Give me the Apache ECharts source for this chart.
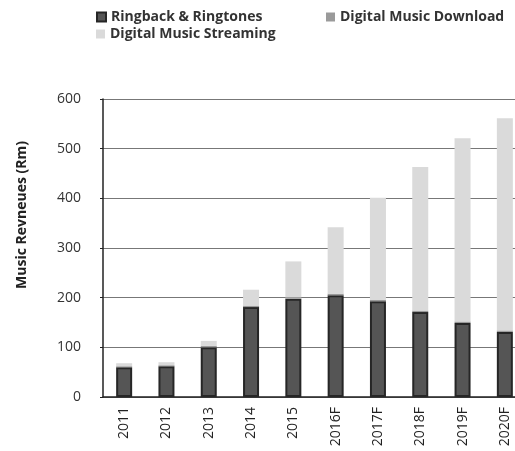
<!DOCTYPE html>
<html>
<head>
<meta charset="utf-8">
<script src="https://cdn.jsdelivr.net/npm/echarts@6/dist/echarts.min.js"></script>
<style>
  html, body { margin: 0; padding: 0; background: #ffffff; overflow: hidden; }
  /* the original is cropped on the right, so the chart is a bit wider than the window */
  #chart { width: 526px; height: 451px; }
</style>
</head>
<body>
<div id="chart"></div>
<script>
  // values (Rm)
  var years = ['2011', '2012', '2013', '2014', '2015', '2016F', '2017F', '2018F', '2019F', '2020F'];
  var ringback = [60, 62, 100, 181, 198, 205, 193, 171, 149, 131];
  var download = [2, 2, 3, 3, 3, 3, 3, 3, 3, 3];
  var streaming = [6, 6, 10, 32, 72, 134, 205, 289, 369, 427];
  var yTicks = [0, 100, 200, 300, 400, 500, 600];

  var font = '"Open Sans", "Liberation Sans", sans-serif';
  var myChart = echarts.init(document.getElementById('chart'));

  var legendText = {fontFamily: font, fontSize: 14, fontWeight: 'bold', color: '#333'};
  var legendBase = {icon: 'rect', itemWidth: 9, itemHeight: 9, itemGap: 2, textStyle: legendText};

  myChart.setOption({
    backgroundColor: '#ffffff',
    animation: false,
    legend: [
      Object.assign({data: ['Ringback & Ringtones'], left: 91, top: 5}, legendBase),
      Object.assign({data: ['Digital Music Download'], left: 321, top: 5}, legendBase),
      Object.assign({data: ['Digital Music Streaming'], left: 91, top: 22}, legendBase)
    ],
    grid: {left: 103, right: 0, top: 99, bottom: 54},
    graphic: [{
      type: 'text',
      x: 22,
      y: 215,
      rotation: Math.PI / 2,
      style: {
        text: 'Music Revneues (Rm)',
        font: 'bold 14px "Open Sans", sans-serif',
        fill: '#222',
        align: 'center',
        verticalAlign: 'middle'
      }
    }],
    xAxis: {
      type: 'category',
      data: years,
      axisLine: {lineStyle: {color: '#222', width: 1.5}},
      axisTick: {show: false},
      axisLabel: {rotate: 90, margin: 10, fontFamily: font, fontSize: 14, color: '#222'}
    },
    yAxis: {
      type: 'value',
      min: yTicks[0],
      max: yTicks[yTicks.length - 1],
      interval: 100,
      axisLine: {show: true, lineStyle: {color: '#222', width: 1.5}},
      axisTick: {show: true, length: 3, lineStyle: {color: '#222'}},
      axisLabel: {margin: 22, fontFamily: font, fontSize: 14, color: '#333'},
      splitLine: {lineStyle: {color: '#777', width: 1}}
    },
    series: [
      {
        name: 'Ringback & Ringtones',
        type: 'bar',
        stack: 'music',
        barWidth: 16,
        data: ringback,
        itemStyle: {color: '#555555', borderColor: '#262626', borderWidth: 2}
      },
      {
        name: 'Digital Music Download',
        type: 'bar',
        stack: 'music',
        barWidth: 16,
        data: download,
        itemStyle: {color: '#9a9a9a'}
      },
      {
        name: 'Digital Music Streaming',
        type: 'bar',
        stack: 'music',
        barWidth: 16,
        data: streaming,
        itemStyle: {color: '#dadada'}
      }
    ]
  });
</script>
</body>
</html>
